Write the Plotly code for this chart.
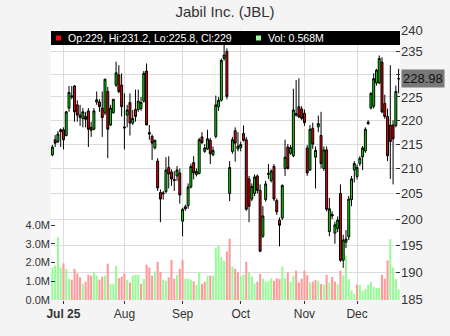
import math
import pandas as pd
import plotly.graph_objects as go

# ---------------- data ----------------
holidays = ["2025-07-04", "2025-09-01", "2025-11-27"]
dates = [d.strftime("%Y-%m-%d") for d in pd.bdate_range("2025-06-25", "2025-12-22")
         if d.strftime("%Y-%m-%d") not in holidays]

opens = [212.8, 215.9, 215.5, 218.0, 218.0, 216.8, 222.6, 225.0, 227.4, 223.3,
         221.1, 220.4, 220.8, 222.0, 218.5, 218.1, 223.9, 223.9, 222.6, 221.6,
         226.2, 219.0, 221.6, 227.6, 229.8, 227.6, 218.6, 221.1, 223.8, 219.4,
         222.3, 222.3, 222.5, 224.1, 230.7, 217.4, 216.6, 214.2, 211.5, 205.2,
         204.9, 205.4, 210.2, 209.3, 207.8, 208.5, 209.1, 199.6, 202.4, 202.6,
         206.3, 211.2, 208.8, 209.0, 216.5, 213.5, 214.0, 215.8, 212.8, 216.6,
         222.9, 224.3, 233.5, 235.1, 205.0, 213.5, 217.8, 214.0, 214.3, 217.2,
         215.9, 207.9, 203.9, 205.0, 208.5, 205.6, 196.7, 203.8, 208.8, 207.6,
         210.4, 203.6, 199.8, 200.2, 210.0, 214.4, 213.1, 212.6, 221.1, 222.9,
         222.4, 221.5, 214.2, 209.7, 218.3, 212.3, 218.6, 216.8, 210.0, 213.8,
         197.6, 200.9, 197.3, 198.2, 205.0, 192.2, 195.6, 196.6, 203.8, 209.7,
         208.4, 211.0, 212.4, 213.6, 219.3, 222.6, 223.0, 228.1, 228.1, 232.7,
         223.6, 220.8, 219.0, 219.0, 218.9, 229.0]
highs = [214.8, 216.9, 217.7, 218.3, 218.5, 222.0, 227.4, 227.4, 227.6, 224.3,
         223.3, 222.6, 221.8, 222.6, 219.7, 222.6, 226.2, 224.5, 226.2, 228.9,
         227.2, 223.3, 224.5, 232.8, 232.0, 230.2, 225.8, 223.3, 225.8, 222.2,
         226.6, 226.6, 225.0, 230.7, 232.4, 219.0, 217.0, 215.9, 212.1, 205.8,
         205.5, 212.3, 212.5, 209.8, 209.5, 210.5, 210.0, 202.2, 202.8, 207.0,
         211.0, 212.5, 210.0, 216.3, 217.5, 215.0, 218.0, 216.3, 214.5, 225.3,
         225.0, 233.5, 236.8, 235.8, 211.5, 216.5, 218.5, 217.5, 215.5, 218.9,
         216.5, 208.5, 207.0, 208.8, 208.8, 206.8, 202.5, 207.5, 210.9, 209.8,
         210.9, 204.0, 200.3, 206.8, 215.9, 215.0, 214.8, 226.8, 228.7, 229.1,
         223.0, 222.3, 214.8, 219.0, 219.5, 214.5, 221.0, 221.8, 214.5, 214.5,
         204.1, 201.5, 199.5, 200.5, 206.8, 197.0, 197.9, 204.5, 208.5, 211.5,
         210.8, 212.5, 214.6, 218.5, 220.0, 226.0, 230.2, 231.2, 234.2, 233.8,
         225.5, 222.5, 232.0, 220.0, 227.5, 231.2]
lows = [212.5, 214.4, 215.2, 214.4, 213.9, 216.6, 221.8, 224.5, 219.7, 219.7,
        218.8, 218.5, 218.5, 214.4, 216.5, 217.9, 223.3, 221.8, 216.5, 221.1,
        212.1, 218.8, 221.4, 227.2, 225.8, 220.8, 213.9, 218.5, 216.8, 219.0,
        219.7, 221.8, 222.0, 223.8, 219.0, 215.9, 211.7, 213.9, 205.5, 199.4,
        203.8, 205.0, 206.0, 206.5, 205.5, 207.5, 203.0, 196.7, 201.6, 202.0,
        206.0, 207.8, 208.4, 208.8, 215.0, 213.2, 213.8, 210.9, 212.5, 216.2,
        222.0, 224.0, 233.0, 224.5, 203.5, 213.0, 211.4, 213.5, 213.5, 215.5,
        201.6, 199.4, 203.5, 204.5, 205.0, 193.7, 196.4, 203.4, 207.9, 207.2,
        203.5, 200.8, 194.8, 199.8, 208.5, 209.8, 212.8, 212.3, 220.8, 220.5,
        220.0, 218.8, 208.5, 209.5, 214.0, 206.0, 217.5, 210.0, 209.5, 201.5,
        196.7, 200.0, 195.3, 197.5, 191.9, 190.8, 194.5, 196.0, 202.5, 207.2,
        207.8, 210.5, 209.7, 213.2, 219.0, 222.3, 222.5, 227.5, 227.8, 221.5,
        220.3, 211.5, 207.9, 206.8, 218.5, 225.8]
closes = [214.4, 215.2, 217.1, 217.6, 215.9, 221.8, 226.0, 225.2, 221.8, 221.1,
          220.6, 221.8, 220.2, 218.1, 217.9, 222.0, 224.4, 222.9, 220.6, 228.9,
          218.1, 222.6, 224.5, 230.3, 226.2, 222.9, 218.4, 222.2, 219.4, 220.4,
          220.8, 224.1, 223.8, 230.2, 219.0, 217.1, 215.2, 215.8, 206.1, 203.9,
          205.1, 209.7, 208.9, 207.9, 207.6, 209.7, 204.7, 201.9, 202.0, 206.3,
          210.4, 209.1, 209.4, 215.9, 215.3, 214.2, 216.1, 213.0, 213.7, 223.3,
          224.3, 233.1, 234.3, 225.1, 210.2, 215.9, 215.2, 214.6, 214.9, 215.8,
          201.9, 202.5, 206.4, 208.3, 205.6, 193.9, 200.6, 206.9, 209.0, 209.5,
          203.9, 201.4, 198.8, 206.6, 212.3, 210.0, 214.3, 222.2, 221.4, 220.7,
          220.4, 219.5, 209.1, 218.1, 215.0, 213.7, 219.3, 211.0, 213.8, 201.9,
          202.0, 200.6, 198.9, 199.8, 192.2, 196.0, 196.2, 203.9, 207.9, 211.0,
          210.2, 212.1, 214.2, 218.1, 219.6, 225.8, 229.0, 230.9, 233.5, 221.8,
          220.8, 212.6, 215.5, 216.1, 226.2, 228.98]
volumes_m = [1.74, 1.85, 3.35, 1.74, 1.96, 1.67, 1.14, 1.09, 1.67, 1.42,
             1.21, 0.87, 0.98, 1.35, 1.30, 1.48, 1.30, 1.09, 1.25, 1.30,
             1.94, 0.87, 0.87, 1.83, 1.17, 1.25, 1.42, 1.09, 0.94, 1.30,
             1.35, 1.35, 0.87, 1.14, 1.89, 1.74, 1.30, 1.53, 2.05, 1.51,
             1.09, 1.03, 1.21, 2.15, 1.14, 1.35, 1.67, 2.15, 1.14, 1.14,
             1.09, 1.00, 0.82, 1.48, 0.87, 0.98, 1.30, 1.30, 1.30, 2.80,
             2.92, 2.30, 2.10, 2.60, 3.28, 1.80, 1.67, 1.48, 1.26, 1.36,
             2.05, 1.51, 1.26, 0.88, 0.98, 1.40, 1.14, 0.98, 1.03, 1.16,
             1.03, 1.16, 1.12, 1.80, 1.16, 1.48, 0.98, 1.30, 1.57, 0.94,
             1.14, 1.57, 1.32, 0.94, 0.98, 1.07, 1.03, 0.85, 0.82, 1.35,
             0.94, 1.23, 0.98, 0.85, 1.57, 1.32, 2.38, 1.12, 0.52, 0.34,
             0.82, 0.80, 0.50, 0.60, 0.82, 0.97, 0.70, 0.64, 0.65, 1.35,
             1.14, 2.12, 3.26, 1.74, 1.12, 0.568]

price_ticks = [185, 190, 195, 200, 205, 210, 215, 220, 225, 230, 235, 240]
vol_ticks = [0, 1, 2, 3, 4]
title_text = "Jabil Inc. (JBL)"

# month ticks: first trading day of each month (year shown on the first one)
tick_dates, tick_labels = [], []
prev_month = None
for d in dates:
    m = d[:7]
    if prev_month is not None and m != prev_month:
        ts = pd.Timestamp(d)
        if not tick_dates:
            tick_labels.append("<b>" + ts.strftime("%b %y") + "</b>")
        else:
            tick_labels.append(ts.strftime("%b"))
        tick_dates.append(d)
    prev_month = m

N = len(dates)
FONT = "Liberation Sans, Arial, sans-serif"
GREEN_V, RED_V = "#98fb98", "#ff9a9a"
vol_colors = [GREEN_V if i == 0 or closes[i] >= closes[i - 1] else RED_V for i in range(N)]

# the last-price badge hides the price tick label it covers
last = closes[-1]
price_ticktext = ["" if abs(math.log(v / last)) < 0.012 else str(v) for v in price_ticks]


def fmt(v):
    s = f"{v:.1f}"
    return s[:-2] if s.endswith(".0") else s


fig = go.Figure()
fig.add_trace(go.Bar(x=dates, y=volumes_m, marker=dict(color=vol_colors, line=dict(width=0)),
                     yaxis="y", hoverinfo="skip"))
fig.add_trace(go.Candlestick(
    x=dates, open=opens, high=highs, low=lows, close=closes, yaxis="y2",
    increasing=dict(line=dict(color="black", width=1), fillcolor="#00e600"),
    decreasing=dict(line=dict(color="black", width=1), fillcolor="#f00000"),
    whiskerwidth=0, hoverinfo="skip"))

H_PLOT = 270.0


def py(pix):  # pixel y (from top of figure) -> paper y
    return (300.0 - pix) / H_PLOT


def px(pix):  # pixel x -> paper x
    return (pix - 51.0) / 349.0


legend_txt = (f"Op:{fmt(opens[-1])}, Hi:{fmt(highs[-1])}, "
              f"Lo:{fmt(lows[-1])}, Cl:{fmt(closes[-1])}")
vol_txt = f"Vol: {volumes_m[-1]:.3f}M"

fig.update_layout(
    width=450, height=336,
    margin=dict(l=51, r=50, t=30, b=36, pad=0),
    paper_bgcolor="#f4f4f4", plot_bgcolor="white",
    showlegend=False, bargap=0.25, boxgap=0.0, hovermode=False,
    font=dict(family=FONT, color="#333333"),
    title=dict(text=title_text, x=0.5, xanchor="center", y=1 - 12 / 336, yanchor="middle",
               yref="container", font=dict(size=15, color="#333333", family=FONT)),
    xaxis=dict(type="category", categoryorder="array", categoryarray=dates,
               range=[-0.5, N - 0.5], tickvals=tick_dates, ticktext=tick_labels,
               ticks="outside", ticklen=3, tickcolor="#333333",
               showgrid=True, gridcolor="#dcdcdc", gridwidth=1,
               tickfont=dict(size=12, color="#333333"),
               rangeslider=dict(visible=False), showline=False, zeroline=False),
    yaxis=dict(side="left", range=[0, 14.45], tickvals=vol_ticks,
               ticktext=[f"{v:.1f}M" for v in vol_ticks],
               ticks="inside", ticklen=4, tickcolor="#333333",
               showgrid=False, zeroline=False, showline=False,
               tickfont=dict(size=11, color="#333333")),
    yaxis2=dict(overlaying="y", side="right", type="log",
                range=[math.log10(184.98), math.log10(240.02)],
                tickvals=price_ticks, ticktext=price_ticktext,
                ticks="inside", ticklen=4, tickcolor="#333333",
                showgrid=True, gridcolor="#dcdcdc", gridwidth=1,
                zeroline=False, showline=False,
                tickfont=dict(size=13, color="#333333")),
    shapes=[
        dict(type="rect", xref="paper", yref="paper", x0=0, x1=1, y0=py(45), y1=py(31),
             fillcolor="black", line=dict(width=0), layer="above"),
        dict(type="rect", xref="paper", yref="paper", x0=px(56), x1=px(61), y0=py(40.5), y1=py(35.5),
             fillcolor="#ff0000", line=dict(width=0), layer="above"),
        dict(type="rect", xref="paper", yref="paper", x0=px(256), x1=px(261), y0=py(40.5), y1=py(35.5),
             fillcolor=GREEN_V, line=dict(width=0), layer="above"),
    ],
    annotations=[
        dict(x=px(66), y=py(38), xref="paper", yref="paper", xanchor="left", yanchor="middle",
             text=legend_txt, showarrow=False, font=dict(size=10.6, color="white", family=FONT)),
        dict(x=px(266), y=py(38), xref="paper", yref="paper", xanchor="left", yanchor="middle",
             text=vol_txt, showarrow=False, font=dict(size=10.6, color="white", family=FONT)),
        dict(x=1, xref="paper", xanchor="left", xshift=1,
             y=math.log10(last), yref="y2", yanchor="middle",
             text=f"{last:.2f}", showarrow=False, bgcolor="#787878", borderpad=1,
             font=dict(size=13, color="#111111", family=FONT)),
    ],
)

fig.write_html("out.html")
